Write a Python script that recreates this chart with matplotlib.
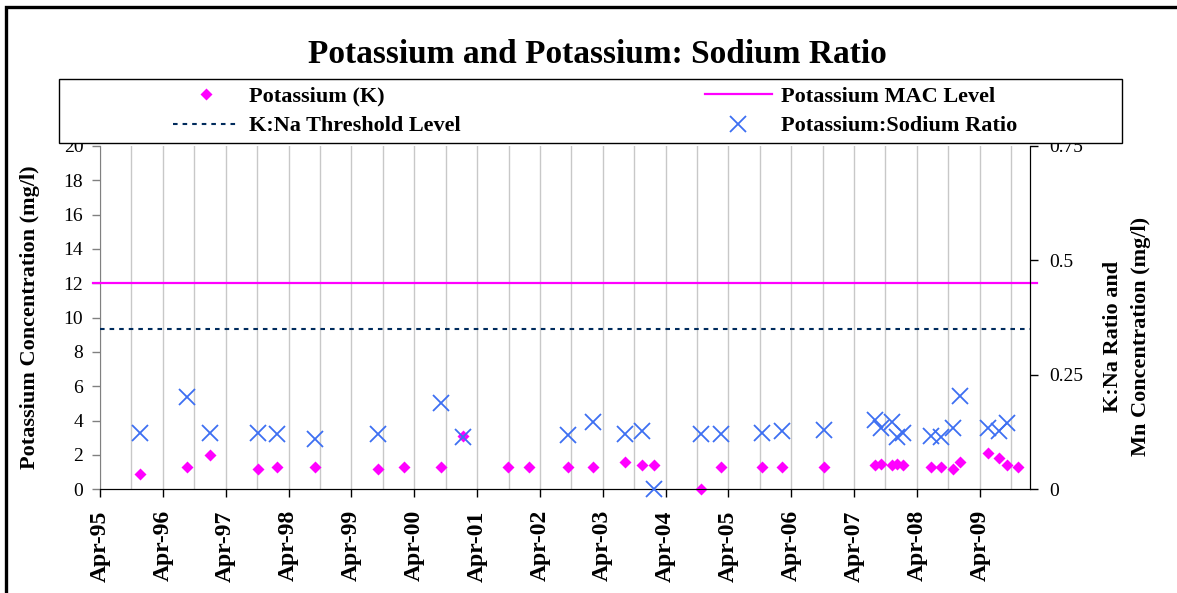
import matplotlib
matplotlib.use("Agg")
import matplotlib.pyplot as plt
import matplotlib.dates as mdates
from matplotlib.patches import Rectangle
import pandas as pd

# sample dates and values
k_dates = ['1995-11-20', '1996-08-21', '1996-12-31', '1997-10-08', '1998-01-22',
           '1998-09-01', '1999-09-01', '2000-02-02', '2000-09-05', '2001-01-11',
           '2001-09-27', '2002-01-25', '2002-09-11', '2003-02-05', '2003-08-07',
           '2003-11-17', '2004-01-25', '2004-10-26', '2005-02-14', '2005-10-15',
           '2006-02-05', '2006-10-08', '2007-07-30', '2007-09-05', '2007-11-10',
           '2007-12-09', '2008-01-11', '2008-06-20', '2008-08-21', '2008-10-30',
           '2008-12-09', '2009-05-18', '2009-07-23', '2009-09-09', '2009-11-10']
k_values = [0.9, 1.3, 2.0, 1.2, 1.3, 1.3, 1.2, 1.3, 1.3, 3.1,
            1.3, 1.3, 1.3, 1.3, 1.6, 1.4, 1.4, 0.0, 1.3, 1.3,
            1.3, 1.3, 1.4, 1.5, 1.4, 1.5, 1.4, 1.3, 1.3, 1.2,
            1.6, 2.1, 1.8, 1.4, 1.3]

ratio_dates = ['1995-11-20', '1996-08-21', '1996-12-31', '1997-10-08', '1998-01-22',
               '1998-09-01', '1999-09-01', '2000-09-05', '2001-01-11', '2002-09-11',
               '2003-02-05', '2003-08-07', '2003-11-17', '2004-01-25', '2004-10-26',
               '2005-02-14', '2005-10-15', '2006-02-05', '2006-10-08', '2007-07-30',
               '2007-09-05', '2007-11-10', '2007-12-09', '2008-01-11', '2008-06-20',
               '2008-08-21', '2008-10-30', '2008-12-09', '2009-05-18', '2009-07-23',
               '2009-09-09']
ratio_values = [0.124, 0.201, 0.124, 0.124, 0.121, 0.109, 0.121, 0.189, 0.114, 0.118,
                0.148, 0.121, 0.128, 0.0, 0.121, 0.121, 0.124, 0.128, 0.129, 0.151,
                0.133, 0.146, 0.114, 0.124, 0.117, 0.114, 0.133, 0.204, 0.135, 0.128,
                0.144]

mac_level = 12
kna_threshold = 0.35
x_start, x_end = '1995-04-01', '2010-01-18'

plt.rcParams['font.family'] = ['Liberation Serif', 'DejaVu Serif']

W, H = 1177, 593
fig = plt.figure(figsize=(W / 100, H / 100), dpi=100)
ax = fig.add_axes([100 / W, 1 - 489.3 / H, 930 / W, 343.3 / H])
ax2 = ax.twinx()

kd = pd.to_datetime(k_dates)
rd = pd.to_datetime(ratio_dates)

mac = ax.axhline(mac_level, xmin=-0.007, xmax=1.008, color='#FF00FF', lw=1.6, clip_on=False, zorder=3)
k_pts, = ax.plot(kd, k_values, 'D', color='#FF00FF', ms=6, mec='none', clip_on=False, zorder=4)
thr, = ax2.plot(pd.to_datetime([x_start, x_end]), [kna_threshold] * 2, color='#002B5C', lw=1.5,
                dashes=(2.2, 2.4))
thr.set_clip_on(False)
r_pts, = ax2.plot(rd, ratio_values, 'x', color='#3D6FF2', ms=11, mew=1.3, clip_on=False, zorder=4)

ax.set_xlim(pd.Timestamp(x_start), pd.Timestamp(x_end))
ax.set_ylim(0, 20)
ax2.set_ylim(0, 0.75)

ax.xaxis.set_major_locator(mdates.MonthLocator(bymonth=4))
ax.xaxis.set_major_formatter(mdates.DateFormatter('%b-%y'))
ax.xaxis.set_minor_locator(mdates.MonthLocator(bymonth=10))
ax.grid(which='both', axis='x', color='#C8C8C8', lw=1.0)
ax.set_axisbelow(True)
ax.set_yticks(range(0, 21, 2))
ax2.set_yticks([0, 0.25, 0.5, 0.75])
ax2.set_yticklabels(['0', '0.25', '0.5', '0.75'])

for a in (ax, ax2):
    a.spines['top'].set_visible(False)
ax.spines['left'].set_color('#808080')
ax2.spines['left'].set_visible(False)
ax.spines['bottom'].set_color('black')
ax2.spines['right'].set_color('black')

ax.tick_params(axis='x', which='major', length=6, width=1, pad=9, labelsize=17, labelrotation=90)
ax.tick_params(axis='x', which='minor', length=0)
ax.tick_params(axis='y', length=6, width=1, color='#808080', pad=6, labelsize=14)
ax2.tick_params(axis='y', length=6, width=1, pad=8, labelsize=14)
for t in ax.get_xticklabels():
    t.set_fontweight('bold')

ax.set_ylabel('Potassium Concentration (mg/l)', fontsize=16, fontweight='bold')
ax2.set_ylabel('K:Na Ratio and\nMn Concentration (mg/l)', fontsize=16, fontweight='bold',
               rotation=90, va='center', linespacing=1.55)
ax2.yaxis.set_label_coords(1.104, 0.4465)
ax.yaxis.set_label_coords(-0.064, 0.5)

fig.text(597.5 / W, 1 - 63.3 / H, 'Potassium and Potassium: Sodium Ratio', ha='center', va='baseline',
         fontsize=24, fontweight='bold')

# legend frame and two legend columns
fig.add_artist(Rectangle((59.3 / W, 1 - 142.7 / H), (1122 - 59.3) / W, 63.4 / H,
                         transform=fig.transFigure, facecolor='white', edgecolor='black',
                         lw=1, zorder=10))
lkw = dict(frameon=False, prop={'weight': 'bold', 'size': 16}, handlelength=3.0,
           handletextpad=0.4, labelspacing=0.42, borderpad=0, borderaxespad=0, loc='upper left')
l1 = fig.legend([k_pts, thr], ['Potassium (K)', 'K:Na Threshold Level'],
                bbox_to_anchor=(173 / W, 1 - 86 / H), **lkw)
l2 = fig.legend([mac, r_pts], ['Potassium MAC Level', 'Potassium:Sodium Ratio'],
                bbox_to_anchor=(705 / W, 1 - 86 / H), **lkw)
l1.set_zorder(11)
l2.set_zorder(11)

# outer chart border (only left and top edges visible)
fig.add_artist(Rectangle((6 / W, -0.2), 1.3, 1.2 - 7 / H, transform=fig.transFigure,
                         fill=False, edgecolor='black', lw=2.4, zorder=12))

fig.savefig('out.png', dpi=100)
